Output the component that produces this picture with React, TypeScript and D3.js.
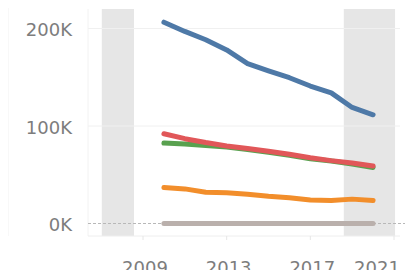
import React from 'react';
import * as d3 from 'd3';

// years on the x axis and the five series (in thousands)
const years = [2010, 2011, 2012, 2013, 2014, 2015, 2016, 2017, 2018, 2019, 2020];
const blueValues = [206.5, 197, 188.5, 178, 164, 156.5, 149.5, 141, 134, 119, 111.5];
const redValues = [92, 87, 83, 79.5, 77, 74, 71, 67.5, 64.5, 62, 59];
const greenValues = [82.5, 81.5, 80, 78.5, 76, 73, 70, 66.5, 64, 61, 57.5];
const orangeValues = [37, 35.5, 32, 31.5, 30, 28, 26.5, 24, 23.5, 25, 23.5];
const grayValues = [0, 0, 0, 0, 0, 0, 0, 0, 0, 0, 0];

const yTicks = [0, 100, 200];
const xTicks = [2009, 2013, 2017, 2021];
const bands: [number, number][] = [[2007.03, 2008.57], [2018.6, 2021.05]];

const series = [
  { name: 'gray', values: grayValues, color: '#bab0ac' },
  { name: 'orange', values: orangeValues, color: '#f28e2b' },
  { name: 'green', values: greenValues, color: '#59a14f' },
  { name: 'red', values: redValues, color: '#e15759' },
  { name: 'blue', values: blueValues, color: '#4e79a7' },
];

const App = () => {
  const width = 413;
  const height = 278;
  // plot box
  const left = 88, right = 400, top = 9, bottom = 236;

  const x = d3.scaleLinear().domain([2009, 2021]).range([143, 394]);
  const y = d3.scaleLinear().domain([0, 200]).range([223.5, 28.5]);

  const line = d3.line<number>()
    .x((d, i) => x(years[i]))
    .y(d => y(d));

  const font = '"DejaVu Sans", sans-serif';
  const labelColor = '#7d7d7d';

  return (
    <div style={{ margin: -8 }}>
      <svg width={width} height={height} style={{ display: 'block' }}>
        <rect width={width} height={height} fill="#fff" />

        {/* leftovers of the neighbouring chart on the left */}
        <line x1={8} x2={8} y1={0} y2={236} stroke="#f2f2f2" />
        {[62, 117, 168, 236].map(v => (
          <line key={v} x1={0} x2={8} y1={v} y2={v} stroke="#ececec" />
        ))}
        <line x1={0} x2={6} y1={223} y2={223} stroke="#c4c4c4" strokeDasharray="2,2" />

        {/* shaded bands */}
        {bands.map((b, i) => (
          <rect key={i} x={x(b[0])} y={top} width={x(b[1]) - x(b[0])} height={bottom - top} fill="#e6e6e6" />
        ))}

        {/* grid */}
        {yTicks.filter(t => t !== 0).map(t => (
          <line key={t} x1={left} x2={right} y1={y(t)} y2={y(t)} stroke="#f0f0f0" strokeWidth={1} />
        ))}
        <line x1={left} x2={left} y1={top} y2={bottom} stroke="#f2f2f2" />
        <line x1={left} x2={right} y1={bottom} y2={bottom} stroke="#eeeeee" />
        {xTicks.map(t => (
          <line key={t} x1={x(t)} x2={x(t)} y1={bottom} y2={bottom + 4} stroke="#e6e6e6" />
        ))}
        <line x1={left} x2={405} y1={y(0)} y2={y(0)} stroke="#b8b8b8" strokeDasharray="3,2" />

        {/* series */}
        {series.map(s => (
          <path key={s.name} d={line(s.values) || ''} fill="none" stroke={s.color}
            strokeWidth={5} strokeLinecap="round" strokeLinejoin="round" />
        ))}

        {/* y labels */}
        {yTicks.map(t => (
          <text key={t} x={72} y={y(t) + 7.5} textAnchor="end" fontFamily={font} fontSize={18} fill={labelColor}>
            {t}K
          </text>
        ))}

        {/* x labels, kept inside the right edge */}
        {xTicks.map(t => (
          <text key={t} x={Math.min(x(t) + 2, 377)} y={274} textAnchor="middle" fontFamily={font} fontSize={18} fill={labelColor}>
            {t}
          </text>
        ))}
      </svg>
    </div>
  );
};

export default App;
